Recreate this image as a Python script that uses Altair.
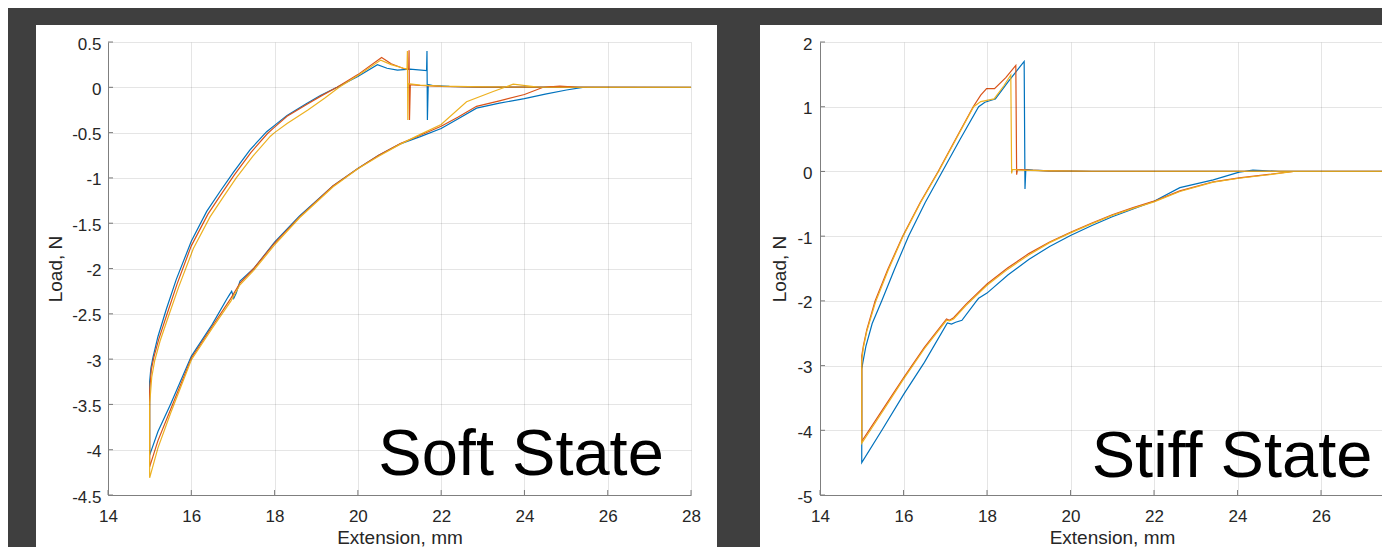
import altair as alt
import pandas as pd

BG = "#3f3f3f"
AX = "#7f7f7f"
TXT = "#262626"
FONT = "Liberation Sans"
COLORS = ["#0072BD", "#D95319", "#EDB120"]
SERIES = ["Test 1", "Test 2", "Test 3"]

SOFT_X_TICKS = [14, 16, 18, 20, 22, 24, 26, 28]
SOFT_Y_TICKS = [0.5, 0, -0.5, -1, -1.5, -2, -2.5, -3, -3.5, -4, -4.5]
STIFF_X_TICKS = [14, 16, 18, 20, 22, 24, 26]
STIFF_Y_TICKS = [2, 1, 0, -1, -2, -3, -4, -5]

# Soft state loops (extension mm, load N), in path order
SOFT_1 = [(15.00, -3.25), (15.03, -3.10), (15.08, -2.98), (15.20, -2.75), (15.40, -2.45), (15.64, -2.12),
          (16.00, -1.70), (16.37, -1.37), (16.69, -1.15), (17.01, -0.94), (17.41, -0.69), (17.81, -0.49),
          (18.00, -0.42), (18.30, -0.31), (18.77, -0.18), (19.10, -0.09), (19.50, 0.00), (20.00, 0.12),
          (20.47, 0.25), (20.70, 0.21), (20.95, 0.19), (21.25, 0.20), (21.65, 0.185), (21.66, 0.40),
          (21.67, -0.36), (21.69, 0.03), (21.80, 0.02), (22.20, 0.01), (23.00, 0.003), (28.00, 0.0),
          (25.40, 0.0), (25.01, -0.03), (24.50, -0.075), (24.00, -0.125), (23.40, -0.175), (22.85, -0.23),
          (22.40, -0.35), (22.00, -0.455), (21.50, -0.545), (21.02, -0.625), (20.50, -0.75), (20.00, -0.895),
          (19.40, -1.09), (18.60, -1.42), (18.00, -1.71), (17.50, -2.00), (17.17, -2.14), (17.08, -2.27),
          (17.02, -2.33), (16.97, -2.25), (16.93, -2.28), (16.85, -2.34), (16.50, -2.62), (16.00, -2.97),
          (15.50, -3.50), (15.20, -3.80), (15.00, -4.06), (15.00, -3.25)]
SOFT_2 = [(15.00, -3.35), (15.04, -3.12), (15.10, -2.98), (15.22, -2.78), (15.42, -2.50), (15.66, -2.17),
          (16.00, -1.75), (16.40, -1.40), (16.72, -1.18), (17.03, -0.97), (17.43, -0.72), (17.83, -0.51),
          (18.00, -0.44), (18.30, -0.32), (18.77, -0.19), (19.10, -0.10), (19.50, 0.00), (20.00, 0.14),
          (20.57, 0.33), (20.80, 0.26), (21.08, 0.21), (21.22, 0.20), (21.23, 0.41), (21.24, -0.36),
          (21.26, 0.03), (21.50, 0.02), (22.00, 0.01), (23.00, 0.003), (28.00, 0.0), (25.30, 0.0),
          (24.85, 0.012), (24.45, 0.0), (24.00, -0.08), (23.40, -0.15), (22.85, -0.21), (22.40, -0.33),
          (22.00, -0.43), (21.50, -0.53), (21.02, -0.62), (20.50, -0.75), (20.00, -0.895), (19.40, -1.09),
          (18.60, -1.43), (18.00, -1.72), (17.50, -2.00), (17.17, -2.16), (16.95, -2.33), (16.50, -2.64),
          (16.00, -2.99), (15.50, -3.56), (15.20, -3.90), (15.00, -4.19), (15.00, -3.35)]
SOFT_3 = [(15.00, -3.50), (15.05, -3.20), (15.12, -3.02), (15.25, -2.80), (15.45, -2.53), (15.70, -2.20),
          (16.05, -1.78), (16.45, -1.43), (16.77, -1.21), (17.08, -1.00), (17.48, -0.76), (17.90, -0.54),
          (18.00, -0.50), (18.30, -0.40), (18.80, -0.25), (19.20, -0.12), (19.55, 0.00), (20.00, 0.13),
          (20.55, 0.30), (20.80, 0.25), (21.10, 0.21), (21.18, 0.20), (21.19, 0.40), (21.20, -0.36),
          (21.21, 0.04), (21.50, 0.025), (22.00, 0.012), (23.00, 0.004), (28.00, 0.0), (24.37, 0.0),
          (23.73, 0.034), (23.25, -0.046), (22.61, -0.16), (22.00, -0.41), (21.50, -0.52), (21.01, -0.63),
          (20.50, -0.76), (20.00, -0.90), (19.40, -1.10), (18.60, -1.44), (18.00, -1.74), (17.50, -2.02),
          (17.17, -2.18), (16.95, -2.36), (16.50, -2.66), (16.00, -3.01), (15.50, -3.60), (15.20, -3.98),
          (15.00, -4.31), (15.00, -3.50)]

# Stiff state loops
STIFF_1 = [(15.00, -3.05), (15.03, -2.94), (15.10, -2.70), (15.25, -2.35), (15.48, -2.00), (15.78, -1.52),
           (16.12, -1.00), (16.52, -0.48), (16.93, 0.00), (17.36, 0.50), (17.80, 1.00), (17.95, 1.07),
           (18.10, 1.10), (18.20, 1.12), (18.50, 1.38), (18.89, 1.70), (18.91, -0.27), (18.93, 0.03),
           (19.10, 0.02), (19.50, 0.01), (20.50, 0.003), (28.00, 0.0), (25.00, 0.0), (24.37, 0.02),
           (24.04, -0.01), (23.42, -0.13), (22.62, -0.25), (22.00, -0.46), (21.50, -0.58), (21.00, -0.70),
           (20.50, -0.84), (20.00, -0.99), (19.50, -1.16), (19.00, -1.36), (18.50, -1.60), (18.00, -1.88),
           (17.80, -1.96), (17.75, -2.00), (17.40, -2.30), (17.25, -2.33), (17.15, -2.36), (17.05, -2.34),
           (16.50, -2.95), (16.00, -3.45), (15.50, -3.98), (15.00, -4.50), (15.00, -3.05)]
STIFF_2 = [(15.00, -2.85), (15.04, -2.69), (15.12, -2.45), (15.32, -2.00), (15.62, -1.52), (15.98, -1.00),
           (16.40, -0.48), (16.83, 0.00), (17.25, 0.50), (17.67, 1.00), (17.85, 1.18), (17.99, 1.28),
           (18.18, 1.28), (18.45, 1.45), (18.69, 1.64), (18.71, -0.05), (18.73, 0.03), (19.00, 0.02),
           (19.50, 0.01), (20.50, 0.003), (28.00, 0.0), (25.34, 0.0), (24.70, -0.05), (24.04, -0.10),
           (23.42, -0.16), (22.62, -0.30), (22.00, -0.46), (21.50, -0.56), (21.00, -0.67), (20.50, -0.80),
           (20.00, -0.94), (19.50, -1.09), (19.00, -1.27), (18.50, -1.49), (18.00, -1.74), (17.50, -2.05),
           (17.20, -2.26), (17.10, -2.30), (17.03, -2.28), (16.50, -2.72), (16.00, -3.19), (15.50, -3.68),
           (15.00, -4.17), (15.00, -2.85)]
STIFF_3 = [(15.00, -2.92), (15.04, -2.72), (15.12, -2.47), (15.33, -2.02), (15.63, -1.53), (15.99, -1.00),
           (16.41, -0.48), (16.84, 0.00), (17.26, 0.50), (17.68, 1.00), (17.85, 1.08), (18.17, 1.12),
           (18.40, 1.32), (18.57, 1.49), (18.59, -0.03), (18.61, 0.03), (18.80, 0.02), (19.50, 0.01),
           (20.50, 0.003), (28.00, 0.0), (25.34, 0.0), (24.70, -0.055), (24.04, -0.105), (23.42, -0.165),
           (22.62, -0.31), (22.00, -0.47), (21.50, -0.57), (21.00, -0.68), (20.50, -0.81), (20.00, -0.95),
           (19.50, -1.10), (19.00, -1.29), (18.50, -1.51), (18.00, -1.76), (17.50, -2.07), (17.20, -2.28),
           (17.10, -2.31), (17.03, -2.30), (16.50, -2.74), (16.00, -3.21), (15.50, -3.71), (15.00, -4.20),
           (15.00, -2.92)]

LABELS = ["Soft State", "Stiff State"]
LABEL_POS = [(23.92, -4.283), (23.87, -4.727)]

H = 453  # plot height of both panels


def to_df(curves):
    rows = []
    for name, pts in zip(SERIES, curves):
        for i, (x, y) in enumerate(pts):
            rows.append({"s": name, "i": i, "x": x, "y": y})
    return pd.DataFrame(rows)


def panel(curves, xdom, ydom, w, h, xticks, yticks, rect, label, lpos, ytitle_x, ylab_pad,
          xtitle_x, xtitle_y):
    xs = alt.Scale(domain=xdom, nice=False, zero=False)
    ys = alt.Scale(domain=ydom, nice=False, zero=False)
    common = dict(grid=True, gridColor=TXT, gridOpacity=0.12, gridWidth=1,
                  domainColor=AX, domainWidth=1, ticks=False, tickSize=0,
                  labelFont=FONT, labelFontSize=17, labelColor=TXT, labelOverlap=False,
                  titleFont=FONT, titleFontSize=19, titleColor=TXT, titleFontWeight="normal",
                  zindex=1)
    xaxis = alt.Axis(values=xticks, title="Extension, mm", labelPadding=13, labelFlush=False,
                     titleX=xtitle_x, titleY=xtitle_y, titleAlign="center", titleBaseline="alphabetic",
                     **common)
    yaxis = alt.Axis(values=yticks, title="Load, N", labelPadding=ylab_pad, labelOffset=2,
                     labelExpr="'' + datum.value",
                     titleAngle=270, titleX=ytitle_x, titleY=h / 2, titleAlign="center",
                     titleBaseline="middle", **common)
    bg = alt.Chart(alt.Data(values=[{}])).mark_rect(color="white").encode(
        x=alt.value(rect[0]), x2=alt.value(rect[1]), y=alt.value(rect[2]), y2=alt.value(rect[3]))
    lines = alt.Chart(to_df(curves)).mark_line(strokeWidth=1.2, clip=True).encode(
        x=alt.X("x:Q", scale=xs, axis=xaxis),
        y=alt.Y("y:Q", scale=ys, axis=yaxis),
        color=alt.Color("s:N", scale=alt.Scale(domain=SERIES, range=COLORS), legend=None),
        order="i:Q")
    ytick = alt.Chart(pd.DataFrame({"y": yticks})).mark_rule(color=AX, strokeWidth=1).encode(
        y="y:Q", x=alt.value(0), x2=alt.value(5))
    xtick = alt.Chart(pd.DataFrame({"x": xticks})).mark_rule(color=AX, strokeWidth=1).encode(
        x="x:Q", y=alt.value(h), y2=alt.value(h - 5))
    txt = alt.Chart(pd.DataFrame({"x": [lpos[0]], "y": [lpos[1]], "t": [label]})).mark_text(
        font=FONT, fontSize=65, color="black", align="center", baseline="alphabetic").encode(
        x="x:Q", y="y:Q", text="t:N")
    return alt.layer(bg, lines, ytick, xtick, txt).properties(width=w, height=h)


left = panel([SOFT_1, SOFT_2, SOFT_3], [14, 28], [-4.5, 0.5], 583, H,
             SOFT_X_TICKS, SOFT_Y_TICKS, (-72, 609, -17, 505), LABELS[0], LABEL_POS[0],
             -53, 7, 291.5, 48)
right = panel([STIFF_1, STIFF_2, STIFF_3], [14, 14 + 562 / 41.75], [-5, 2], 562, H,
              STIFF_X_TICKS, STIFF_Y_TICKS, (-60, 562, -17, 505), LABELS[1], LABEL_POS[1],
              -41, 8, 292, 48)

chart = alt.hconcat(left, right, spacing=43).properties(
    background=BG, padding={"left": 28, "top": 17, "right": 0, "bottom": 0}
).configure_view(stroke=None)

chart.save("out.html", embed_options={"renderer": "svg", "actions": False})
